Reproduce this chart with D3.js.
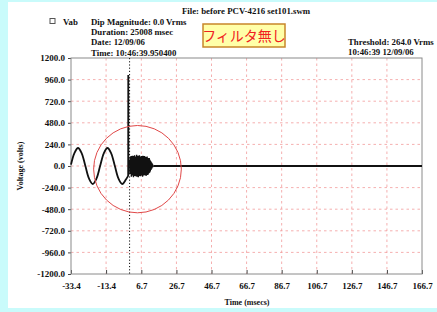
<!DOCTYPE html>
<html>
<head>
<meta charset="utf-8">
<script src="https://cdn.jsdelivr.net/npm/d3@7"></script>
<style>
  body { margin: 0; background: #c9fbfb; }
  svg { display: block; }
  text { font-family: "Liberation Serif", "DejaVu Serif", serif; font-weight: bold; fill: #111; }
</style>
</head>
<body>
<div id="chart"></div>
<script>
// tick values
const xTicks = [-33.4, -13.4, 6.7, 26.7, 46.7, 66.7, 86.7, 106.7, 126.7, 146.7, 166.7];
const yTicks = [1200, 960, 720, 480, 240, 0, -240, -480, -720, -960, -1200];

// pre-event waveform (msec, volts)
const waveT = [-33.4, -31.5, -29.4, -27.3, -25.2, -23.1, -21.0, -18.9, -16.8, -14.7, -12.6, -10.5, -8.4, -6.3, -4.2, -2.1, -0.8];
const waveV = [15, 141, 200, 141, 0, -141, -200, -141, 0, 141, 200, 141, 0, -141, -200, -150, -110];

// transient spike at the event
const spikeT = [-0.8, -0.75, -0.7, 0.0];
const spikeV = [-110, 1010, 40, 30];

// ringing burst after the event, sampled every 0.2 msec from 0.0
const burstStart = 0.0, burstStep = 0.2;
const burstV = [70, -90, 100, -80, 110, -120, 95, -105, 115, -100, 105, -125, 110, -95, 120, -110,
  95, -115, 105, -100, 125, -120, 100, -105, 115, -125, 95, -110, 120, -100, 105, -115, 90, -105,
  110, -95, 100, -120, 115, -90, 95, -105, 110, -100, 105, -95, 100, -110, 95, -90, 105, -100,
  90, -95, 85, -80, 90, -75, 70, -60, 55, -45, 40, -30, 20, -12, 8, -4, 0];

// flat tail
const tailT = [13.6, 166.7];
const tailV = [0, 0];

// annotation circle (centre msec/volts, radius msec/volts)
const ring = { t: 4.5, v: -35, rt: 25, rv: 485 };

const headerLeft = ["Dip Magnitude: 0.0 Vrms", "Duration: 25008 msec", "Date: 12/09/06", "Time: 10:46:39.950400"];
const headerRight = ["Threshold: 264.0 Vrms", "10:46:39 12/09/06"];

const width = 437, height = 312;
const plot = { left: 71, right: 422, top: 58, bottom: 274 };

const svg = d3.select("#chart").append("svg")
  .attr("width", width).attr("height", height);

svg.append("rect").attr("x", 8).attr("y", 2).attr("width", 429).attr("height", 306).attr("fill", "#fff");

const x = d3.scaleLinear().domain([-33.4, 166.7]).range([plot.left, plot.right]);
const y = d3.scaleLinear().domain([-1200, 1200]).range([plot.bottom, plot.top]);
const fmt = d => d.toFixed(1);

// grid
svg.append("g").selectAll("line").data(xTicks.slice(1, -1)).join("line")
  .attr("x1", d => x(d)).attr("x2", d => x(d))
  .attr("y1", plot.top).attr("y2", plot.bottom)
  .attr("stroke", "#f29a9a").attr("stroke-width", 0.8).attr("stroke-dasharray", "2.5,3");
svg.append("g").selectAll("line").data(yTicks.slice(1, -1)).join("line")
  .attr("x1", plot.left).attr("x2", plot.right)
  .attr("y1", d => y(d)).attr("y2", d => y(d))
  .attr("stroke", "#f29a9a").attr("stroke-width", 0.8).attr("stroke-dasharray", "2.5,3");

// axes
const xAxis = svg.append("g").attr("transform", `translate(0,${plot.bottom})`)
  .call(d3.axisBottom(x).tickValues(xTicks).tickSize(-4).tickPadding(9).tickFormat(fmt));
const yAxis = svg.append("g").attr("transform", `translate(${plot.left},0)`)
  .call(d3.axisLeft(y).tickValues(yTicks).tickSize(3).tickPadding(3).tickFormat(fmt));
[xAxis, yAxis].forEach(a => {
  a.attr("font-family", null).attr("font-size", null);
  a.select(".domain").remove();
  a.selectAll(".tick line").attr("stroke", "#444");
  a.selectAll(".tick text").attr("font-size", 9).attr("fill", "#111");
});

svg.append("rect")
  .attr("x", plot.left).attr("y", plot.top)
  .attr("width", plot.right - plot.left).attr("height", plot.bottom - plot.top)
  .attr("fill", "none").attr("stroke", "#8a8a8a").attr("stroke-width", 1);

// event marker
svg.append("line")
  .attr("x1", x(0)).attr("x2", x(0)).attr("y1", plot.top).attr("y2", plot.bottom)
  .attr("stroke", "#111").attr("stroke-width", 1).attr("stroke-dasharray", "1.2,2");

// waveform
const smooth = d3.line().x(d => x(d[0])).y(d => y(d[1])).curve(d3.curveCatmullRom);
const lin = d3.line().x(d => x(d[0])).y(d => y(d[1]));
svg.append("path")
  .datum(waveT.map((t, i) => [t, waveV[i]]))
  .attr("d", smooth)
  .attr("fill", "none").attr("stroke", "#111").attr("stroke-width", 1.8);
svg.append("path")
  .datum(spikeT.map((t, i) => [t, spikeV[i]]))
  .attr("d", lin)
  .attr("fill", "none").attr("stroke", "#111").attr("stroke-width", 1.8);
svg.append("path")
  .datum(burstV.map((v, i) => [burstStart + i * burstStep, v]))
  .attr("d", lin)
  .attr("fill", "none").attr("stroke", "#111").attr("stroke-width", 1.4);
svg.append("path")
  .datum(tailT.map((t, i) => [t, tailV[i]]))
  .attr("d", lin)
  .attr("fill", "none").attr("stroke", "#111").attr("stroke-width", 1.8);

// red ring
svg.append("ellipse")
  .attr("cx", x(ring.t)).attr("cy", y(ring.v))
  .attr("rx", x(ring.t + ring.rt) - x(ring.t)).attr("ry", y(ring.v - ring.rv) - y(ring.v))
  .attr("fill", "none").attr("stroke", "#e04848").attr("stroke-width", 1);

// header
svg.append("text").attr("x", 246).attr("y", 14).attr("text-anchor", "middle")
  .attr("font-size", 8.8).text("File: before PCV-4216 set101.swm");
svg.append("rect").attr("x", 50).attr("y", 18.5).attr("width", 5).attr("height", 5)
  .attr("fill", "none").attr("stroke", "#555").attr("stroke-width", 1);
svg.append("text").attr("x", 63).attr("y", 25).attr("font-size", 8.8).text("Vab");
svg.selectAll(".hl").data(headerLeft).join("text")
  .attr("x", 91).attr("y", (d, i) => 25 + i * 10.2).attr("font-size", 8.8).text(d => d);
svg.selectAll(".hr").data(headerRight).join("text")
  .attr("x", 348).attr("y", (d, i) => 45 + i * 10).attr("font-size", 8.8).text(d => d);

// note box
svg.append("rect").attr("x", 203).attr("y", 24).attr("width", 82).attr("height", 23)
  .attr("fill", "#ffffa8").attr("stroke", "#c8862a").attr("stroke-width", 1.5);
svg.append("text").attr("x", 244).attr("y", 41).attr("text-anchor", "middle")
  .attr("font-size", 14).style("font-family", "'Noto Sans CJK JP', sans-serif")
  .style("font-weight", "normal").style("fill", "#f02020").text("フィルタ無し");

// axis titles
svg.append("text").attr("x", 247).attr("y", 305).attr("text-anchor", "middle")
  .attr("font-size", 8).text("Time (msecs)");
svg.append("text").attr("transform", "translate(23,166) rotate(-90)").attr("text-anchor", "middle")
  .attr("font-size", 8).text("Voltage (volts)");
</script>
</body>
</html>
